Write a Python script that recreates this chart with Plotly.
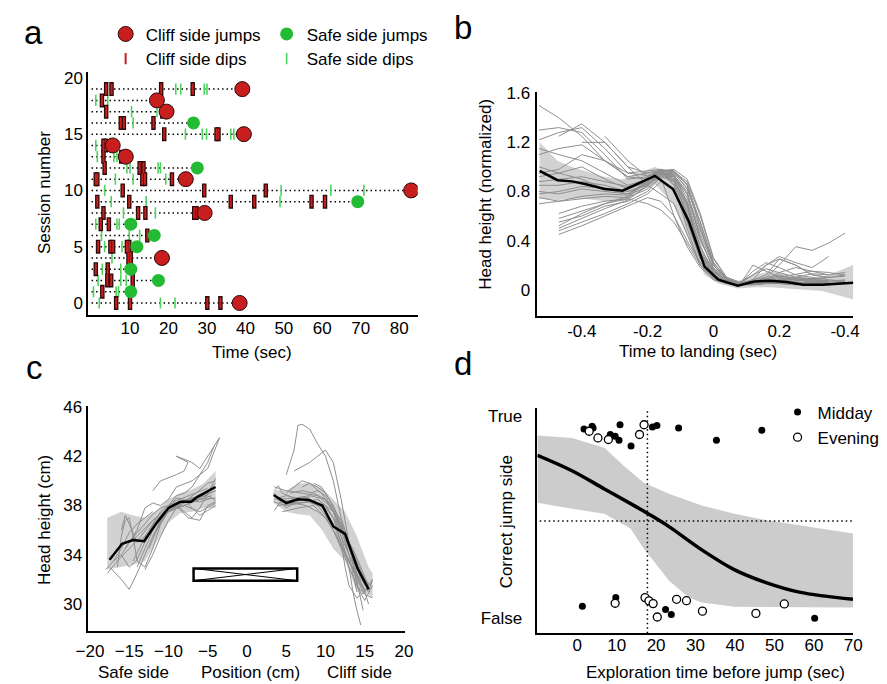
import plotly.graph_objects as go

FONT = "Liberation Sans, Arial, Helvetica, sans-serif"
W, H = 887, 684

# ---------------- Panel a : exploration events per session ----------------
sessions = list(range(20))
cliff_dips = [
    [6.4, 10.0, 30.1, 33.5],          # 0
    [2.8],                            # 1
    [4.1, 5.1, 10.7],                 # 2
    [1.1, 4.2],                       # 3
    [9.6, 10.2],                      # 4
    [1.7, 4.9, 5.6, 9.2, 9.8],        # 5
    [14.5],                           # 6
    [2.4, 4.5],                       # 7
    [3.1, 12.1, 14.0, 26.7, 27.3],    # 8
    [1.5, 9.8, 36.2, 42.3, 57.2, 60.7],  # 9
    [8.1, 29.3, 45.3],                # 10
    [1.1, 1.5, 13.2, 13.9, 20.9],     # 11
    [3.4, 12.5, 13.5],                # 12
    [3.1, 7.7],                       # 13
    [3.1, 3.7],                       # 14
    [18.9, 32.5, 33.0],               # 15
    [7.6, 8.4, 16.1],                 # 16
    [3.8, 18.4],                      # 17
    [2.7],                            # 18
    [3.8, 5.2, 18.1, 26.3],           # 19
]
safe_dips = [
    [2.0, 17.9, 21.7],                # 0
    [0.5, 6.4, 7.0],                  # 1
    [1.7, 7.6, 9.0],                  # 2
    [2.8, 7.6],                       # 3
    [5.3],                            # 4
    [3.4, 7.9],                       # 5
    [2.6, 9.8, 12.5],                 # 6
    [1.1, 6.6, 7.2],                  # 7
    [8.3, 16.6],                      # 8
    [5.1, 14.2, 49.0],                # 9
    [3.4, 49.3, 62.2, 70.8],          # 10
    [6.2, 10.8, 19.3],                # 11
    [9.2, 10.0, 17.3, 17.9],          # 12
    [1.5, 5.8, 6.6],                  # 13
    [1.1],                            # 14
    [24.4, 28.8, 29.9, 36.2, 37.0],   # 15
    [10.8],                           # 16
    [10.4, 17.0],                     # 17
    [1.1, 4.2],                       # 18
    [21.9, 23.2, 29.3, 30.0],         # 19
]
jump_time = [38.5, 10.2, 17.4, 10.2, 18.3, 11.8, 16.3, 10.2, 29.4, 69.2,
             83.1, 24.5, 27.5, 8.9, 5.5, 39.6, 26.5, 19.5, 17.0, 39.2]
jump_side = ["cliff", "safe", "safe", "safe", "cliff", "safe", "safe", "safe", "cliff", "safe",
             "cliff", "cliff", "safe", "cliff", "cliff", "cliff", "safe", "cliff", "cliff", "cliff"]
trial_start = 0.0

# ---------------- Panel b : head height around landing ----------------
b_t = [-0.528, -0.474, -0.430, -0.390, -0.331, -0.276, -0.178, -0.123, -0.074, -0.027,
       0.015, 0.074, 0.124, 0.173, 0.222, 0.272, 0.331, 0.425]
b_mean = [0.968, 0.892, 0.882, 0.860, 0.820, 0.806, 0.927, 0.820, 0.551, 0.188,
          0.081, 0.032, 0.067, 0.073, 0.062, 0.040, 0.040, 0.056]
b_upper = [1.20, 1.05, 1.00, 0.97, 0.92, 0.90, 1.00, 0.95, 0.70, 0.28,
           0.12, 0.07, 0.12, 0.15, 0.13, 0.10, 0.10, 0.20]
b_lower = [0.74, 0.73, 0.74, 0.74, 0.72, 0.72, 0.86, 0.70, 0.40, 0.12,
           0.05, 0.01, 0.02, 0.02, 0.01, 0.00, -0.01, -0.08]
b_trial_t = [-0.53, -0.47, -0.40, -0.33, -0.26, -0.20, -0.16, -0.12, -0.08, -0.04,
             0.0, 0.04, 0.08, 0.12, 0.16, 0.20, 0.25, 0.30, 0.35, 0.40]
b_trials = [
    [1.50, 1.40, 1.25, 1.05, 0.95, 0.97, 0.98, 0.85, 0.55, 0.25, 0.12, 0.06, 0.04, 0.05, 0.06, 0.05, 0.05, 0.06, 0.07, 0.08],
    [None, 1.25, 1.35, 1.20, 1.00, 0.95, 0.97, 0.90, 0.65, 0.35, 0.15, 0.07, 0.05, 0.08, 0.20, 0.25, 0.20, 0.12, 0.10, None],
    [1.30, 1.32, 1.28, 1.10, 0.90, 0.92, 0.96, 0.92, 0.72, 0.40, 0.18, 0.08, 0.05, 0.06, 0.08, 0.10, 0.12, 0.15, 0.14, 0.12],
    [None, None, None, 1.25, 1.05, 0.92, 0.97, 0.94, 0.70, 0.32, 0.14, 0.07, 0.05, 0.08, 0.10, 0.20, 0.35, 0.32, 0.38, 0.46],
    [1.15, 1.10, 1.05, 0.95, 0.85, 0.90, 0.96, 0.88, 0.60, 0.28, 0.12, 0.06, 0.05, 0.15, 0.22, 0.18, 0.12, 0.10, 0.08, 0.07],
    [1.00, 0.95, 1.00, 0.90, 0.82, 0.88, 0.95, 0.93, 0.75, 0.45, 0.20, 0.08, 0.05, 0.05, 0.06, 0.06, 0.05, 0.06, 0.05, None],
    [0.85, 0.85, 0.88, 0.85, 0.80, 0.85, 0.95, 0.90, 0.68, 0.30, 0.12, 0.06, 0.04, 0.04, 0.05, 0.05, 0.04, 0.05, 0.05, 0.05],
    [0.80, 0.78, 0.82, 0.80, 0.78, 0.88, 0.96, 0.85, 0.50, 0.20, 0.10, 0.05, 0.04, 0.06, 0.10, 0.12, 0.08, 0.06, 0.06, 0.07],
    [0.75, 0.72, 0.74, 0.76, 0.75, 0.82, 0.93, 0.92, 0.78, 0.48, 0.22, 0.09, 0.05, 0.08, 0.12, 0.25, 0.20, 0.12, 0.10, None],
    [None, 0.55, 0.60, 0.68, 0.72, 0.80, 0.92, 0.88, 0.62, 0.30, 0.14, 0.07, 0.05, 0.05, 0.06, 0.06, 0.05, 0.05, 0.06, None],
    [None, 0.48, 0.55, 0.62, 0.70, 0.78, 0.88, 0.82, 0.55, 0.25, 0.10, 0.06, 0.04, 0.04, 0.05, 0.07, 0.06, 0.06, 0.05, None],
    [None, 0.45, 0.52, 0.60, 0.68, 0.75, 0.72, 0.60, 0.40, 0.22, 0.12, 0.06, 0.05, 0.05, 0.05, 0.05, 0.04, 0.05, 0.04, None],
    [0.92, 0.95, 0.90, 0.82, 0.78, 0.86, 0.92, 0.60, 0.35, 0.18, 0.09, 0.05, 0.04, 0.20, 0.15, 0.10, 0.08, 0.07, 0.06, None],
    [None, None, 1.20, 1.20, 1.00, 0.85, 0.78, 0.70, 0.45, 0.20, 0.08, 0.05, 0.05, 0.05, 0.06, 0.08, 0.10, 0.09, 0.07, None],
    [None, 0.62, 0.68, 0.72, 0.74, 0.70, 0.65, 0.55, 0.38, 0.20, 0.10, 0.05, 0.04, 0.05, 0.05, 0.05, 0.05, 0.05, 0.04, None],
    [1.10, 1.15, 1.18, 1.05, 0.92, 0.95, 0.97, 0.95, 0.82, 0.55, 0.22, 0.09, 0.05, 0.12, 0.20, 0.27, 0.22, 0.18, 0.27, None],
    [None, 0.58, 0.64, 0.70, 0.74, 0.92, 0.98, 0.96, 0.85, 0.50, 0.20, 0.08, 0.05, 0.05, 0.07, 0.08, 0.10, 0.13, 0.12, 0.14],
    [0.78, 0.80, 0.84, 0.83, 0.80, 0.86, 0.94, 0.93, 0.80, 0.42, 0.16, 0.07, 0.04, 0.06, 0.07, 0.06, 0.07, 0.08, 0.06, None],
    [None, 0.50, 0.58, 0.66, 0.73, 0.85, 0.97, 0.97, 0.86, 0.55, 0.22, 0.09, 0.05, 0.07, 0.09, 0.11, 0.09, 0.08, 0.10, 0.12],
    [1.22, 1.28, 1.32, 1.15, 0.95, 0.93, 0.96, 0.93, 0.78, 0.42, 0.17, 0.07, 0.05, 0.05, 0.07, 0.09, 0.08, 0.07, 0.06, None],
    [0.70, 0.72, 0.76, 0.78, 0.77, 0.84, 0.94, 0.95, 0.83, 0.52, 0.20, 0.08, 0.05, 0.06, 0.06, 0.07, 0.08, 0.09, 0.10, 0.11],
    [0.95, 0.98, 1.10, 1.05, 0.92, 0.90, 0.97, 0.96, 0.88, 0.60, 0.25, 0.10, 0.06, 0.12, 0.17, 0.14, 0.10, 0.08, 0.07, None],
    [None, 0.52, 0.62, 0.70, 0.76, 0.88, 0.97, 0.98, 0.90, 0.62, 0.26, 0.10, 0.06, 0.06, 0.08, 0.14, 0.18, 0.15, 0.12, None],
    [0.88, 0.90, 0.92, 0.88, 0.84, 0.87, 0.93, 0.89, 0.70, 0.35, 0.15, 0.07, 0.04, 0.05, 0.07, 0.08, 0.06, 0.05, 0.05, 0.06],
]
b_xticks = [-0.4, -0.2, 0, 0.2, 0.4]
b_xticktext = ["-0.4", "-0.2", "0", "0.2", "-0.4"]

# ---------------- Panel c : head height vs position ----------------
c_left_x = [-17.5, -15.9, -14.5, -13.1, -11.6, -10.0, -8.5, -7.1, -6.3, -5.2, -4.0]
c_left_mean = [33.6, 34.9, 35.2, 35.1, 36.5, 37.8, 38.3, 38.3, 38.7, 39.1, 39.5]
c_left_bx = [-17.8, -16, -14.5, -13, -11.5, -10, -8.5, -7, -5.5, -4]
c_left_up = [37.0, 37.5, 37.2, 37.0, 37.6, 38.5, 39.0, 39.3, 39.8, 40.8]
c_left_lo = [32.8, 33.0, 33.2, 33.5, 35.0, 36.6, 37.4, 37.5, 37.8, 37.8]
c_right_x = [3.4, 5.0, 6.5, 7.9, 9.6, 11.0, 12.5, 14.1, 15.5]
c_right_mean = [38.85, 38.2, 38.5, 38.45, 38.0, 36.3, 35.7, 32.9, 31.2]
c_right_bx = [3.4, 5, 6.5, 8, 9.6, 11, 12.5, 14, 15.5, 16]
c_right_up = [39.3, 39.2, 39.8, 39.8, 39.4, 38.5, 37.5, 35.5, 33.0, 32.5]
c_right_lo = [38.2, 37.5, 37.3, 37.2, 36.0, 34.5, 33.5, 31.0, 30.8, 30.5]
c_trials = [
    ([-17.5, -16, -15, -14, -13, -12, -11, -10, -8, -6, -4.5], [33.0, 32.0, 31.2, 32.5, 34.0, 35.5, 36.8, 37.6, 38.2, 38.5, 38.8]),
    ([-16, -15.5, -15, -14, -13, -12, -10, -8, -6, -4], [36.0, 37.2, 36.5, 35.0, 35.5, 36.5, 37.5, 38.0, 38.6, 39.2]),
    ([-15.5, -14, -13, -12, -11, -10, -9, -7, -5, -3.5], [34.5, 36.0, 37.8, 38.2, 38.0, 38.5, 39.5, 40.0, 41.0, 43.5]),
    ([-12, -11, -9, -8, -7.5, -9, -7, -6, -4.5, -3.5], [39.2, 40.0, 40.5, 40.8, 41.5, 42.0, 41.5, 41.0, 42.5, 43.5]),
    ([-14, -13, -12, -11, -10, -8, -6, -4], [33.0, 34.5, 36.0, 37.2, 37.8, 38.0, 37.5, 38.2]),
    ([-13, -12, -11, -10, -9, -8, -7, -5, -4], [32.8, 34.0, 35.5, 36.8, 37.8, 38.3, 38.5, 39.0, 39.2]),
    ([-17, -16, -15, -14, -12, -10, -8, -6, -4], [33.5, 34.0, 35.0, 35.5, 36.8, 37.5, 38.0, 38.5, 38.6]),
    ([-15, -14, -13, -12, -11, -9, -7, -5, -4], [35.0, 35.8, 36.5, 37.3, 37.8, 38.2, 38.6, 38.8, 38.4]),
    ([-12.5, -11.5, -10.5, -9, -8, -7, -6, -5, -4], [34.5, 36.0, 37.3, 38.0, 37.5, 37.0, 37.8, 39.0, 40.2]),
    ([-16.5, -16, -15.5, -15, -14.5, -14, -13, -12, -11, -10, -8, -6, -4], [33.0, 35.5, 36.8, 37.0, 35.5, 33.5, 33.0, 34.5, 36.5, 37.7, 38.4, 38.8, 39.5]),
    ([-11, -10, -9, -8, -7, -6, -5, -4], [36.8, 37.8, 38.6, 38.5, 37.8, 37.2, 37.6, 38.0]),
    ([-13.5, -12, -10, -8, -6.5, -5, -4], [35.0, 36.2, 37.5, 38.3, 39.0, 39.8, 40.0]),
    ([-10, -9, -8, -7, -6, -5, -4.2], [38.0, 38.8, 39.0, 39.5, 40.5, 41.5, 42.8]),
    ([-18, -17, -16, -15, -14, -13, -12], [32.8, 33.5, 34.5, 35.8, 36.5, 37.0, 37.5]),
    ([-17.8, -16.5, -15, -13.5, -12, -10.5, -9, -7.5, -6, -4.5], [32.5, 33.5, 34.5, 35.5, 36.8, 37.6, 38.0, 38.4, 38.3, 38.6]),
    ([-14.5, -13.5, -12.5, -11.5, -10.5, -9.5, -8, -6.5, -5, -4], [33.5, 34.8, 35.8, 36.8, 37.5, 38.0, 38.4, 38.7, 39.2, 39.8]),
    ([-16, -15, -14, -13, -12, -11, -10, -9, -7, -5], [34.0, 33.0, 33.6, 35.0, 36.5, 37.5, 38.0, 38.4, 38.9, 39.4]),
    ([-12, -11, -10, -9, -7.5, -6, -5, -4], [35.5, 36.5, 37.5, 38.0, 37.0, 36.8, 38.0, 38.3]),
    ([3.5, 5, 7, 9, 10, 11, 12, 13, 14, 15, 16], [38.5, 38.8, 38.5, 38.0, 37.2, 36.0, 34.8, 33.5, 32.0, 30.8, 30.5]),
    ([4, 6, 8, 10, 11, 12, 13, 14, 15], [38.0, 38.2, 38.3, 37.8, 37.0, 35.5, 34.0, 32.5, 31.0]),
    ([3.5, 5, 7, 9, 10.5, 12, 13, 14, 14.8], [39.5, 39.2, 39.0, 38.8, 38.0, 36.5, 34.8, 32.0, 29.5]),
    ([5, 6, 6.5, 7, 8, 9, 10, 11, 12, 13.5, 15], [40.5, 42.5, 44.5, 44.6, 44.2, 43.0, 42.0, 40.0, 37.0, 34.0, 31.5]),
    ([6, 8, 10, 11, 12, 13, 14, 15, 15.5], [40.8, 41.5, 42.5, 41.5, 38.5, 35.0, 32.5, 31.0, 30.0]),
    ([3.8, 6, 8, 10, 11, 12, 13, 14, 15], [38.5, 38.6, 38.8, 38.5, 37.5, 36.2, 34.5, 33.0, 31.8]),
    ([4.5, 6.5, 8.5, 10, 11.5, 12.5, 13.5, 14.5, 15.5, 16], [37.5, 37.8, 38.0, 37.0, 35.5, 34.0, 33.0, 31.5, 31.0, 32.0]),
    ([7, 8, 9, 10, 11, 12, 13, 14], [39.5, 39.8, 39.5, 39.0, 38.0, 36.5, 34.0, 31.0]),
    ([3.4, 5, 7, 9, 10, 11, 12, 13, 14, 15, 15.8], [38.3, 38.0, 38.2, 38.5, 38.0, 37.0, 36.0, 35.0, 33.5, 32.0, 31.5]),
    ([8, 9, 10, 11, 12, 13, 13.5, 14, 14.5], [39.0, 39.2, 38.8, 37.5, 35.5, 33.0, 31.0, 29.5, 28.3]),
    ([9, 10, 11, 12, 12.5, 13, 14, 15, 16], [38.5, 38.0, 37.0, 35.0, 33.0, 31.5, 30.5, 31.0, 32.0]),
    ([5, 6, 7, 8, 9.5, 11, 12, 13], [39.0, 39.5, 40.0, 39.8, 39.0, 37.5, 36.0, 34.0]),
    ([3.6, 4, 4.5, 6, 8], [39.3, 39.6, 39.0, 38.6, 38.4]),
    ([8.5, 9.5, 10.5, 11.5, 12.5, 13.5, 14.5, 15.5], [39.8, 39.5, 38.5, 37.0, 35.5, 34.5, 33.0, 31.5]),
    ([4, 5, 6, 7, 8, 9, 10, 11, 12, 13, 14, 15], [38.4, 38.3, 38.5, 38.7, 38.5, 38.2, 37.5, 36.5, 35.0, 33.5, 32.3, 31.2]),
    ([3.5, 4.5, 6, 7.5, 9, 10, 11, 12, 13, 14, 15], [37.6, 38.5, 38.2, 38.0, 37.5, 37.0, 36.0, 34.5, 33.0, 31.5, 30.8]),
    ([5.5, 7, 8.5, 10, 11, 12, 13, 14, 14.5, 15.5], [39.0, 39.2, 39.0, 38.5, 37.8, 36.8, 35.0, 33.0, 32.0, 31.5]),
    ([10, 11, 12, 13, 13.5, 14, 15, 16], [38.0, 37.5, 36.5, 35.0, 33.5, 31.5, 30.3, 31.5]),
    ([3.4, 4, 5, 6, 7, 8], [39.0, 38.5, 37.8, 38.2, 38.5, 38.7]),
]
platform = dict(x0=-6.8, x1=6.4, y0=31.9, y1=32.9)

# ---------------- Panel d : logistic fit ----------------
d_fit_x = [-10.1, -1.33, 6.9, 15.1, 18.4, 23.36, 31.6, 39.8, 48.05, 56.3, 69.9]
d_fit_y = [0.883, 0.793, 0.687, 0.581, 0.537, 0.466, 0.332, 0.217, 0.140, 0.086, 0.044]
d_up_x = [-10.1, -1.33, 6.9, 11.85, 16.8, 23.36, 31.6, 39.8, 48.05, 56.3, 69.9]
d_up_y = [0.998, 0.984, 0.927, 0.821, 0.725, 0.658, 0.591, 0.543, 0.505, 0.476, 0.428]
d_lo_x = [-10.1, -1.33, 6.9, 13.5, 16.8, 23.36, 28.3, 31.6, 39.8, 69.9]
d_lo_y = [0.606, 0.572, 0.543, 0.457, 0.341, 0.150, 0.054, 0.025, 0.0, -0.004]
midday_x = [1.72, 3.78, 4.02, 8.39, 9.62, 10.6, 10.86, 13.65, 19.08, 20.2, 25.7, 35.3, 46.8,
            1.31, 9.78, 22.4, 23.85, 60.2]
midday_y = [1.036, 1.052, 1.042, 1.004, 0.994, 0.971, 1.061, 0.937, 1.048, 1.057, 1.042, 0.971, 1.029,
            0.004, 0.054, -0.015, -0.044, -0.067]
evening_x = [3.04, 5.26, 7.9, 15.8, 16.95,
             9.62, 17.2, 18.2, 19.25, 20.3, 25.2, 27.7, 31.75, 45.3, 52.5]
evening_y = [1.023, 0.984, 0.975, 1.004, 1.061,
             0.021, 0.054, 0.035, 0.019, -0.059, 0.044, 0.036, -0.025, -0.038, 0.017]
d_threshold_time = 17.8
d_chance = 0.5

RED = "#c81e1e"
GREEN = "#22bb33"
DIPGREEN = "#4fd35f"
GRAYLINE = "#8f8f8f"
BAND = "#d2d2d2"

fig = go.Figure()

# ---- panel a traces
lx, ly = [], []
for s in sessions:
    lx += [trial_start, jump_time[s], None]
    ly += [s, s, None]
fig.add_trace(go.Scatter(x=lx, y=ly, mode="lines", line=dict(color="black", width=1.5, dash="1.5px,3px"),
                         showlegend=False, hoverinfo="skip", xaxis="x", yaxis="y"))
cdx = [t for s in sessions for t in cliff_dips[s]]
cdy = [s for s in sessions for t in cliff_dips[s]]
sdx = [t for s in sessions for t in safe_dips[s]]
sdy = [s for s in sessions for t in safe_dips[s]]
fig.add_trace(go.Scatter(x=sdx, y=sdy, mode="markers", name="Safe side dips", legend="legend3",
                         marker=dict(symbol="line-ns", size=8, line=dict(color=DIPGREEN, width=1.6)),
                         xaxis="x", yaxis="y"))
fig.add_trace(go.Scatter(x=cdx, y=cdy, mode="markers", showlegend=False,
                         marker=dict(symbol="line-ns", size=10, line=dict(color="#2a0a0a", width=4.5)),
                         xaxis="x", yaxis="y"))
fig.add_trace(go.Scatter(x=cdx, y=cdy, mode="markers", name="Cliff side dips", legend="legend3",
                         marker=dict(symbol="line-ns", size=8, line=dict(color=RED, width=2)),
                         xaxis="x", yaxis="y"))
cj = [s for s in sessions if jump_side[s] == "cliff"]
sj = [s for s in sessions if jump_side[s] == "safe"]
fig.add_trace(go.Scatter(x=[jump_time[s] for s in cj], y=cj, mode="markers", name="Cliff side jumps",
                         legend="legend",
                         marker=dict(symbol="circle", size=15, color=RED, line=dict(color="#2a0a0a", width=1)),
                         xaxis="x", yaxis="y"))
fig.add_trace(go.Scatter(x=[jump_time[s] for s in sj], y=sj, mode="markers", name="Safe side jumps",
                         legend="legend",
                         marker=dict(symbol="circle", size=13, color=GREEN, line=dict(width=0)),
                         xaxis="x", yaxis="y"))

# ---- panel b traces
fig.add_trace(go.Scatter(x=b_t + b_t[::-1], y=b_upper + b_lower[::-1], fill="toself", fillcolor=BAND,
                         line=dict(width=0), mode="lines", showlegend=False, hoverinfo="skip",
                         xaxis="x2", yaxis="y2"))
for tr in b_trials:
    fig.add_trace(go.Scatter(x=b_trial_t, y=tr, mode="lines", line=dict(color=GRAYLINE, width=1),
                             showlegend=False, xaxis="x2", yaxis="y2"))
fig.add_trace(go.Scatter(x=b_t, y=b_mean, mode="lines", line=dict(color="black", width=2.5),
                         showlegend=False, xaxis="x2", yaxis="y2"))

# ---- panel c traces
fig.add_trace(go.Scatter(x=c_left_bx + c_left_bx[::-1], y=c_left_up + c_left_lo[::-1], fill="toself",
                         fillcolor=BAND, line=dict(width=0), mode="lines", showlegend=False,
                         xaxis="x3", yaxis="y3"))
fig.add_trace(go.Scatter(x=c_right_bx + c_right_bx[::-1], y=c_right_up + c_right_lo[::-1], fill="toself",
                         fillcolor=BAND, line=dict(width=0), mode="lines", showlegend=False,
                         xaxis="x3", yaxis="y3"))
for xs, ys in c_trials:
    fig.add_trace(go.Scatter(x=xs, y=ys, mode="lines", line=dict(color=GRAYLINE, width=1),
                             showlegend=False, xaxis="x3", yaxis="y3"))
fig.add_trace(go.Scatter(x=c_left_x, y=c_left_mean, mode="lines", line=dict(color="black", width=2.5),
                         showlegend=False, xaxis="x3", yaxis="y3"))
fig.add_trace(go.Scatter(x=c_right_x, y=c_right_mean, mode="lines", line=dict(color="black", width=2.5),
                         showlegend=False, xaxis="x3", yaxis="y3"))

# ---- panel d traces
fig.add_trace(go.Scatter(x=d_up_x + d_lo_x[::-1], y=d_up_y + d_lo_y[::-1], fill="toself", fillcolor="#cccccc",
                         line=dict(width=0), mode="lines", showlegend=False, xaxis="x4", yaxis="y4"))
fig.add_trace(go.Scatter(x=d_fit_x, y=d_fit_y, mode="lines", line=dict(color="black", width=3.5, shape="spline"),
                         showlegend=False, xaxis="x4", yaxis="y4"))
fig.add_trace(go.Scatter(x=[d_threshold_time, d_threshold_time], y=[-0.154, 1.157], mode="lines",
                         line=dict(color="black", width=1.5, dash="1.5px,3px"), showlegend=False,
                         xaxis="x4", yaxis="y4"))
fig.add_trace(go.Scatter(x=[-9.5, 70], y=[d_chance, d_chance], mode="lines",
                         line=dict(color="black", width=1.5, dash="1.5px,3px"), showlegend=False,
                         xaxis="x4", yaxis="y4"))
fig.add_trace(go.Scatter(x=midday_x, y=midday_y, mode="markers", name="Midday", legend="legend2",
                         marker=dict(symbol="circle", size=7, color="black"), xaxis="x4", yaxis="y4"))
fig.add_trace(go.Scatter(x=evening_x, y=evening_y, mode="markers", name="Evening", legend="legend2",
                         marker=dict(symbol="circle", size=8, color="white", line=dict(color="black", width=1.3)),
                         xaxis="x4", yaxis="y4"))


def px_x(p):
    return p / W


def px_y(p):
    return 1 - p / H


def axis(domain, rng, tickvals, anchor, ticktext=None, standoff=0):
    d = dict(domain=domain, range=rng, anchor=anchor, showline=True, linecolor="black", linewidth=1.5,
             showgrid=False, zeroline=False, ticks="", tickvals=tickvals,
             tickfont=dict(size=17, color="black", family=FONT), fixedrange=True,
             ticklabelstandoff=standoff)
    if ticktext is not None:
        d["ticktext"] = ticktext
    return d


layout = dict(
    width=W, height=H, autosize=False, margin=dict(l=0, r=0, t=0, b=0),
    plot_bgcolor="white", paper_bgcolor="white",
    font=dict(family=FONT, size=17, color="black"),
    xaxis=axis([px_x(77), px_x(415)], [-0.9, 84.8], [10, 20, 30, 40, 50, 60, 70, 80], "y", standoff=-4),
    yaxis=axis([px_y(311), px_y(65)], [-1.1, 20.5], [0, 5, 10, 15, 20], "x", standoff=0),
    xaxis2=axis([px_x(537.7), px_x(861.7)], [-0.535, 0.425], b_xticks, "y2", b_xticktext, standoff=-1),
    yaxis2=axis([px_y(311.7), px_y(85)], [-0.215, 1.61], [0, 0.4, 0.8, 1.2, 1.6], "x2",
                ["0", "0.4", "0.8", "1.2", "1.6"], standoff=2),
    xaxis3=axis([px_x(77.3), px_x(401.7)], [-20.2, 20.1], [-20, -15, -10, -5, 0, 5, 10, 15, 20], "y3",
                standoff=4),
    yaxis3=axis([px_y(630), px_y(403)], [27.85, 46.05], [30, 34, 38, 42, 46], "x3", standoff=1),
    xaxis4=axis([px_x(537.7), px_x(861.7)], [-10.1, 70], [0, 10, 20, 30, 40, 50, 60, 70], "y4", standoff=-4),
    yaxis4=axis([px_y(632.7), px_y(405)], [-0.154, 1.157], [-0.065, 1.109], "x4", ["False", "True"],
                standoff=10),
    legend=dict(orientation="h", x=px_x(95), y=px_y(26.7), xanchor="left", yanchor="middle",
                entrywidth=116, entrywidthmode="pixels", font=dict(size=17),
                bgcolor="rgba(0,0,0,0)", traceorder="normal"),
    legend3=dict(orientation="h", x=px_x(95), y=px_y(51.7), xanchor="left", yanchor="middle",
                 entrywidth=116, entrywidthmode="pixels", font=dict(size=17),
                 bgcolor="rgba(0,0,0,0)", traceorder="reversed"),
    legend2=dict(orientation="v", x=px_x(784), y=px_y(422), xanchor="left", yanchor="middle",
                 font=dict(size=17), bgcolor="rgba(0,0,0,0)", tracegroupgap=0),
)
fig.update_layout(**layout)

# platform drawing in panel c
fig.add_shape(type="rect", xref="x3", yref="y3", line=dict(color="black", width=2.5),
              **platform)
fig.add_shape(type="line", xref="x3", yref="y3", x0=platform["x0"], y0=platform["y1"],
              x1=platform["x1"], y1=platform["y0"], line=dict(color="black", width=1))
fig.add_shape(type="line", xref="x3", yref="y3", x0=platform["x0"], y0=platform["y0"],
              x1=platform["x1"], y1=platform["y1"], line=dict(color="black", width=1))

ann = []


def text(x, y, s, size=17, angle=0, xref="paper", xanchor="center"):
    ann.append(dict(x=x, y=y, xref=xref, yref="paper", text=s, showarrow=False, textangle=angle,
                    font=dict(size=size, color="black", family=FONT), xanchor=xanchor, yanchor="middle"))


text(px_x(21), px_y(25), "a", size=33)
text(px_x(461), px_y(20), "b", size=33)
text(px_x(22), px_y(364), "c", size=33)
text(px_x(461), px_y(360), "d", size=33)
text(px_x(33), px_y(187), "Session number", angle=-90)
text(px_x(245), px_y(349), "Time (sec)")
text(px_x(485), px_y(188), "Head height (normalized)", angle=-90)
text(px_x(702.5), px_y(348), "Time to landing (sec)")
text(px_x(33), px_y(518), "Head height (cm)", angle=-90)
text(-14.5, px_y(672), "Safe side", xref="x3")
text(0.5, px_y(672), "Position (cm)", xref="x3")
text(14.3, px_y(672), "Cliff side", xref="x3")
text(px_x(506), px_y(520), "Correct jump side", angle=-90)
text(px_x(720), px_y(672.7), "Exploration time before jump (sec)")
fig.update_layout(annotations=ann)

fig.write_html("out.html")
